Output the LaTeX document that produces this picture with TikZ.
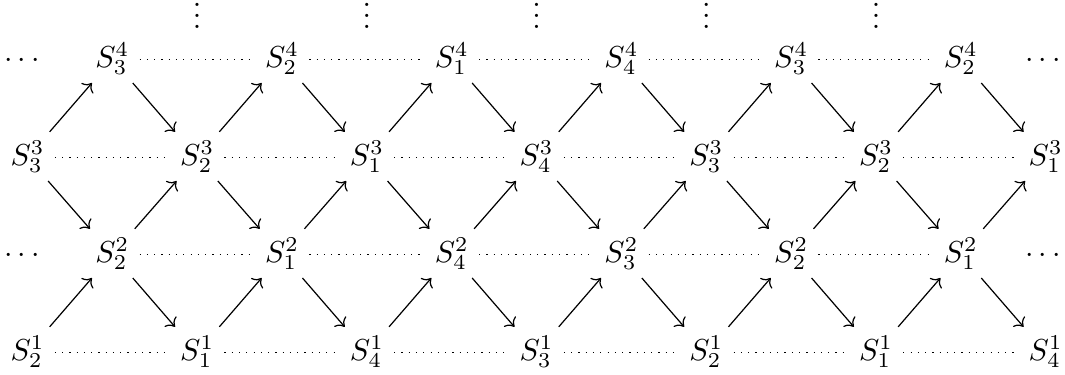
\documentclass[tikz,border=0pt]{standalone}
\usetikzlibrary{cd}
\newcommand{\myvdots}{\vbox{\baselineskip3.7pt\lineskiplimit0pt\hbox{.}\hbox{.}\hbox{.}}}
\begin{document}
\begin{tikzpicture}[x=0.33pt,y=-0.33pt,
  cell/.style={shape=asymmetrical rectangle,anchor=base,inner xsep=3.2pt,inner ysep=2.6pt},
  arr/.style={-{cm to}},
  dotline/.style={dotted}]
\useasboundingbox (0,0) rectangle (1065,374);
% row 0: vertical dots
\foreach \c in {3,5,7,9,11}
  \node[cell] (v-\c) at ({27.5+84.85*(\c-1)},29) {$\myvdots$};
% row 1
\node[cell] (n1-1) at (22,67) {$\cdots$};
\node[cell] (n1-13) at (1043,67) {$\cdots$};
\foreach \c/\s in {2/3,4/2,6/1,8/4,10/3,12/2}
  \node[cell] (n1-\c) at ({27.5+84.85*(\c-1)},67) {$S_{\s}^{4}$};
% row 2
\foreach \c/\s in {1/3,3/2,5/1,7/4,9/3,11/2,13/1}
  \node[cell] (n2-\c) at ({27.5+84.85*(\c-1)},165) {$S_{\s}^{3}$};
% row 3
\node[cell] (n3-1) at (22,262) {$\cdots$};
\node[cell] (n3-13) at (1043,262) {$\cdots$};
\foreach \c/\s in {2/2,4/1,6/4,8/3,10/2,12/1}
  \node[cell] (n3-\c) at ({27.5+84.85*(\c-1)},262) {$S_{\s}^{2}$};
% row 4
\foreach \c/\s in {1/2,3/1,5/4,7/3,9/2,11/1,13/4}
  \node[cell] (n4-\c) at ({27.5+84.85*(\c-1)},360) {$S_{\s}^{1}$};
% arrows
\foreach \c in {1,3,...,11} {
  \pgfmathtruncatemacro\d{\c+1}
  \draw[arr] (n2-\c) -- (n1-\d);
  \draw[arr] (n2-\c) -- (n3-\d);
  \draw[arr] (n4-\c) -- (n3-\d);
}
\foreach \c in {2,4,...,12} {
  \pgfmathtruncatemacro\d{\c+1}
  \draw[arr] (n1-\c) -- (n2-\d);
  \draw[arr] (n3-\c) -- (n2-\d);
  \draw[arr] (n3-\c) -- (n4-\d);
}
% dotted lines
\foreach \c in {2,4,...,10} {
  \pgfmathtruncatemacro\d{\c+2}
  \draw[dotline] (n1-\c) -- (n1-\d);
  \draw[dotline] (n3-\c) -- (n3-\d);
}
\foreach \c in {1,3,...,11} {
  \pgfmathtruncatemacro\d{\c+2}
  \draw[dotline] (n2-\c) -- (n2-\d);
  \draw[dotline] (n4-\c) -- (n4-\d);
}
\end{tikzpicture}
\end{document}
